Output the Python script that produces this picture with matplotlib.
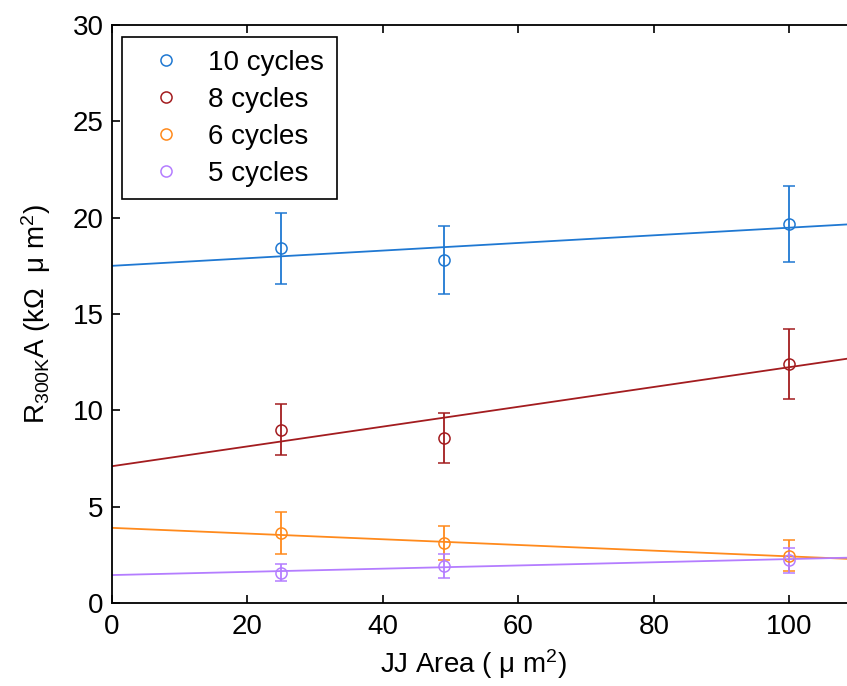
import numpy as np
import matplotlib
matplotlib.use("Agg")
import matplotlib.pyplot as plt

plt.rcParams['font.family'] = ['Liberation Sans', 'DejaVu Sans']
plt.rcParams['mathtext.default'] = 'regular'

# junction areas (um^2)
area = [25, 49, 100]

labels = ['10 cycles', '8 cycles', '6 cycles', '5 cycles']
colors = ['#1f78d2', '#a31c1f', '#ff8a1c', '#b47dff']

# R*A values (kOhm um^2) and their error bars
ra_10 = [18.4, 17.8, 19.65]
err_10 = [1.85, 1.75, 1.97]
ra_8 = [9.0, 8.55, 12.4]
err_8 = [1.34, 1.3, 1.83]
ra_6 = [3.62, 3.1, 2.46]
err_6 = [1.1, 0.88, 0.8]
ra_5 = [1.58, 1.92, 2.23]
err_5 = [0.44, 0.6, 0.65]

# linear fits: intercept, slope
fit_10 = (17.5, 0.0198)
fit_8 = (7.1, 0.0514)
fit_6 = (3.9, -0.0148)
fit_5 = (1.45, 0.0083)

fig = plt.figure(figsize=(8.47, 6.86), dpi=100)
ax = fig.add_axes([112/847, 1-603/686, 745/847, 578/686])

xfit = np.array([0, 110])
series = [(ra_10, err_10, fit_10), (ra_8, err_8, fit_8),
          (ra_6, err_6, fit_6), (ra_5, err_5, fit_5)]
for (y, e, fit), c, lab in zip(series, colors, labels):
    ax.errorbar(area, y, yerr=e, fmt='o', mfc='none', mec=c, ecolor=c,
                ms=8, mew=1.1, elinewidth=1.3, capsize=4.5, capthick=1.3,
                label=lab, zorder=3)
    ax.plot(xfit, fit[0] + fit[1]*xfit, color=c, lw=1.3, zorder=2)

ax.set_xlim(0, 110)
ax.set_ylim(0, 30)
ax.set_xticks([0, 20, 40, 60, 80, 100])
ax.set_yticks([0, 5, 10, 15, 20, 25, 30])
ax.tick_params(direction='in', length=6, width=1.2, labelsize=20,
               top=True, right=True)
ax.tick_params(axis='x', pad=8)
ax.tick_params(axis='y', pad=6)
for s in ax.spines.values():
    s.set_linewidth(1.3)

ax.set_xlabel('JJ Area ( μ m$^2$)', fontsize=20, labelpad=5)
ax.xaxis.label.set_x(0.485)
ax.set_ylabel('R$_{300K}$A (kΩ  μ m$^2$)', fontsize=20, labelpad=14)

# legend shows markers only
handles, labs = ax.get_legend_handles_labels()
handles = [h[0] for h in handles]
leg = ax.legend(handles, labs, loc='upper left', bbox_to_anchor=(0.0134, 0.979),
                borderaxespad=0, fontsize=20, numpoints=1, handlelength=2.3,
                handletextpad=0.36, labelspacing=0.4, fancybox=False,
                edgecolor='black', framealpha=1, borderpad=0.45)
leg.get_frame().set_linewidth(1.2)

fig.savefig('out.png', dpi=100)
